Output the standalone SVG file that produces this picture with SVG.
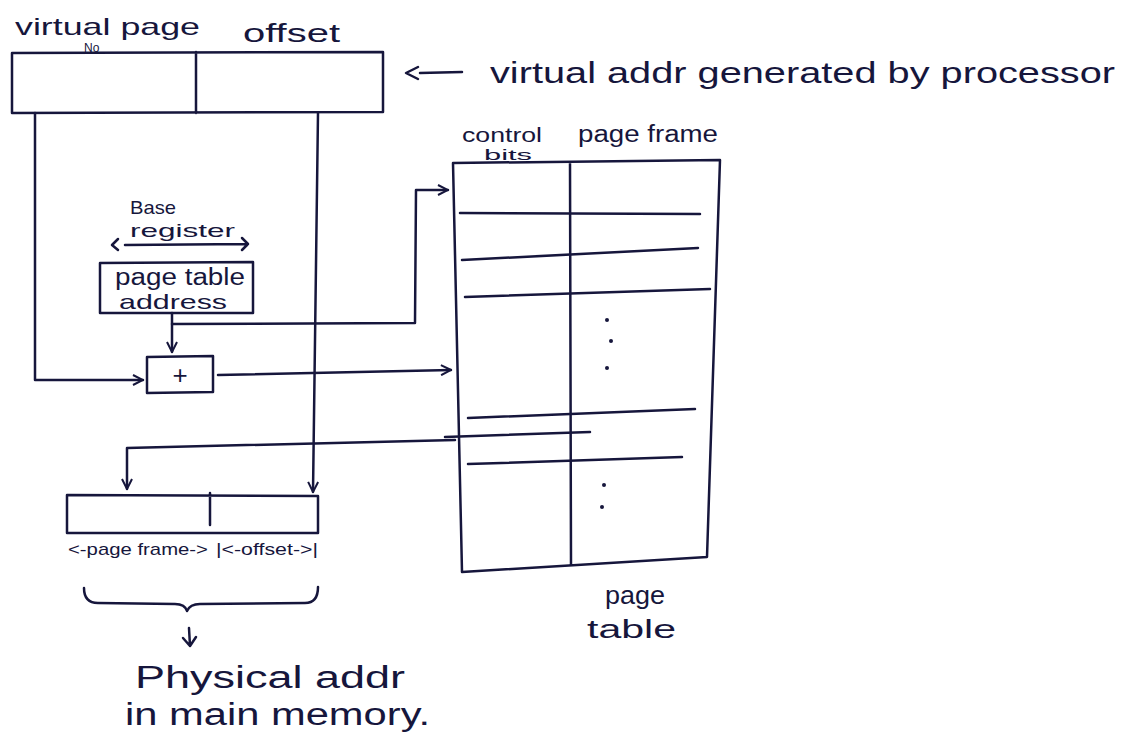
<svg xmlns="http://www.w3.org/2000/svg" width="1125" height="747" viewBox="0 0 1125 747">
<defs>
<marker id="ah" viewBox="0 0 12 12" refX="11" refY="6" markerWidth="12" markerHeight="12" markerUnits="userSpaceOnUse" orient="auto-start-reverse">
<polyline points="1,1 11,6 1,11" fill="none" stroke="#16163c" stroke-width="2"/>
</marker>
<style>
.ln{fill:none;stroke:#16163c;stroke-width:2.5;stroke-linecap:round;stroke-linejoin:round}
.t{font-family:"Liberation Sans","DejaVu Sans",sans-serif;fill:#16163c}
</style>
</defs>
<rect width="1125" height="747" fill="#ffffff"/>

<g id="virtual-address">
<path class="ln" d="M12,53 L383,52 L383,112 L12,113 Z M196,52 L196,113"/>
<text class="t" x="15" y="35" font-size="24" textLength="185" lengthAdjust="spacingAndGlyphs">virtual page</text>
<text class="t" x="84" y="52" font-size="12">No</text>
<text class="t" x="243" y="42" font-size="25" textLength="97" lengthAdjust="spacingAndGlyphs">offset</text>
</g>

<g id="va-label">
<path class="ln" d="M418,67 L406,73 L418,79 M420,73 L462,72"/>
<text class="t" x="490" y="83" font-size="29" textLength="625" lengthAdjust="spacingAndGlyphs">virtual addr generated by processor</text>
</g>

<g id="base-register">
<text class="t" x="130" y="214" font-size="19" textLength="46" lengthAdjust="spacingAndGlyphs">Base</text>
<text class="t" x="130" y="237" font-size="19" textLength="105" lengthAdjust="spacingAndGlyphs">register</text>
<path class="ln" d="M118,239 L112,245 L118,250 M125,245 L248,244 M242,238 L248,244 L242,250"/>
<path class="ln" d="M100,263 L253,262 L253,313 L100,313 Z"/>
<text class="t" x="115" y="285" font-size="23" textLength="130" lengthAdjust="spacingAndGlyphs">page table</text>
<text class="t" x="119" y="309" font-size="21" textLength="108" lengthAdjust="spacingAndGlyphs">address</text>
</g>

<g id="adder">
<path class="ln" d="M147,357 L213,356 L213,392 L147,393 Z"/>
<text class="t" x="180" y="384" font-size="26" text-anchor="middle">+</text>
</g>

<g id="page-table">
<path class="ln" d="M453,163 L720,160 L707,557 L462,572 Z M570,163 L571,565"/>
<path class="ln" d="M460,213 L700,214 M462,260 L698,248 M465,297 L710,289 M468,418 L695,409 M445,437 L590,432 M468,464 L682,457"/>
<circle cx="607" cy="320" r="2" fill="#16163c"/>
<circle cx="611" cy="341" r="2" fill="#16163c"/>
<circle cx="607" cy="368" r="2" fill="#16163c"/>
<circle cx="604" cy="485" r="2" fill="#16163c"/>
<circle cx="602" cy="507" r="2" fill="#16163c"/>
<text class="t" x="462" y="142" font-size="21" textLength="80" lengthAdjust="spacingAndGlyphs">control</text>
<text class="t" x="484" y="160" font-size="14" textLength="48" lengthAdjust="spacingAndGlyphs">bits</text>
<text class="t" x="578" y="142" font-size="23" textLength="140" lengthAdjust="spacingAndGlyphs">page frame</text>
<text class="t" x="605" y="604" font-size="25" textLength="60" lengthAdjust="spacingAndGlyphs">page</text>
<text class="t" x="587" y="638" font-size="25" textLength="89" lengthAdjust="spacingAndGlyphs">table</text>
</g>

<g id="physical-address">
<path class="ln" d="M67,495 L318,496 L318,533 L67,533 Z M210,493 L210,525"/>
<text class="t" x="68" y="555" font-size="17" textLength="140" lengthAdjust="spacingAndGlyphs">&lt;-page frame-&gt;</text>
<text class="t" x="216" y="555" font-size="17" textLength="102" lengthAdjust="spacingAndGlyphs">|&lt;-offset-&gt;|</text>
<path class="ln" d="M84,588 Q84,603 98,603 L175,604 Q185,604 187,611 Q190,604 200,604 L305,603 Q318,603 318,587"/>
<path class="ln" d="M189,628 L190,646 M183,638 L190,646 L196,637"/>
<text class="t" x="135" y="688" font-size="31" textLength="270" lengthAdjust="spacingAndGlyphs">Physical addr</text>
<text class="t" x="125" y="725" font-size="31" textLength="305" lengthAdjust="spacingAndGlyphs">in main memory.</text>
</g>

<g id="connectors">
<path class="ln" d="M35,113 L35,380 L143,380" marker-end="url(#ah)"/>
<path class="ln" d="M318,113 L313,492" marker-end="url(#ah)"/>
<path class="ln" d="M172,313 L172,352" marker-end="url(#ah)"/>
<path class="ln" d="M172,324 L415,323 L416,190 L448,190" marker-end="url(#ah)"/>
<path class="ln" d="M218,375 L451,370" marker-end="url(#ah)"/>
<path class="ln" d="M455,440 L127,448 L127,489" marker-end="url(#ah)"/>
</g>
</svg>
